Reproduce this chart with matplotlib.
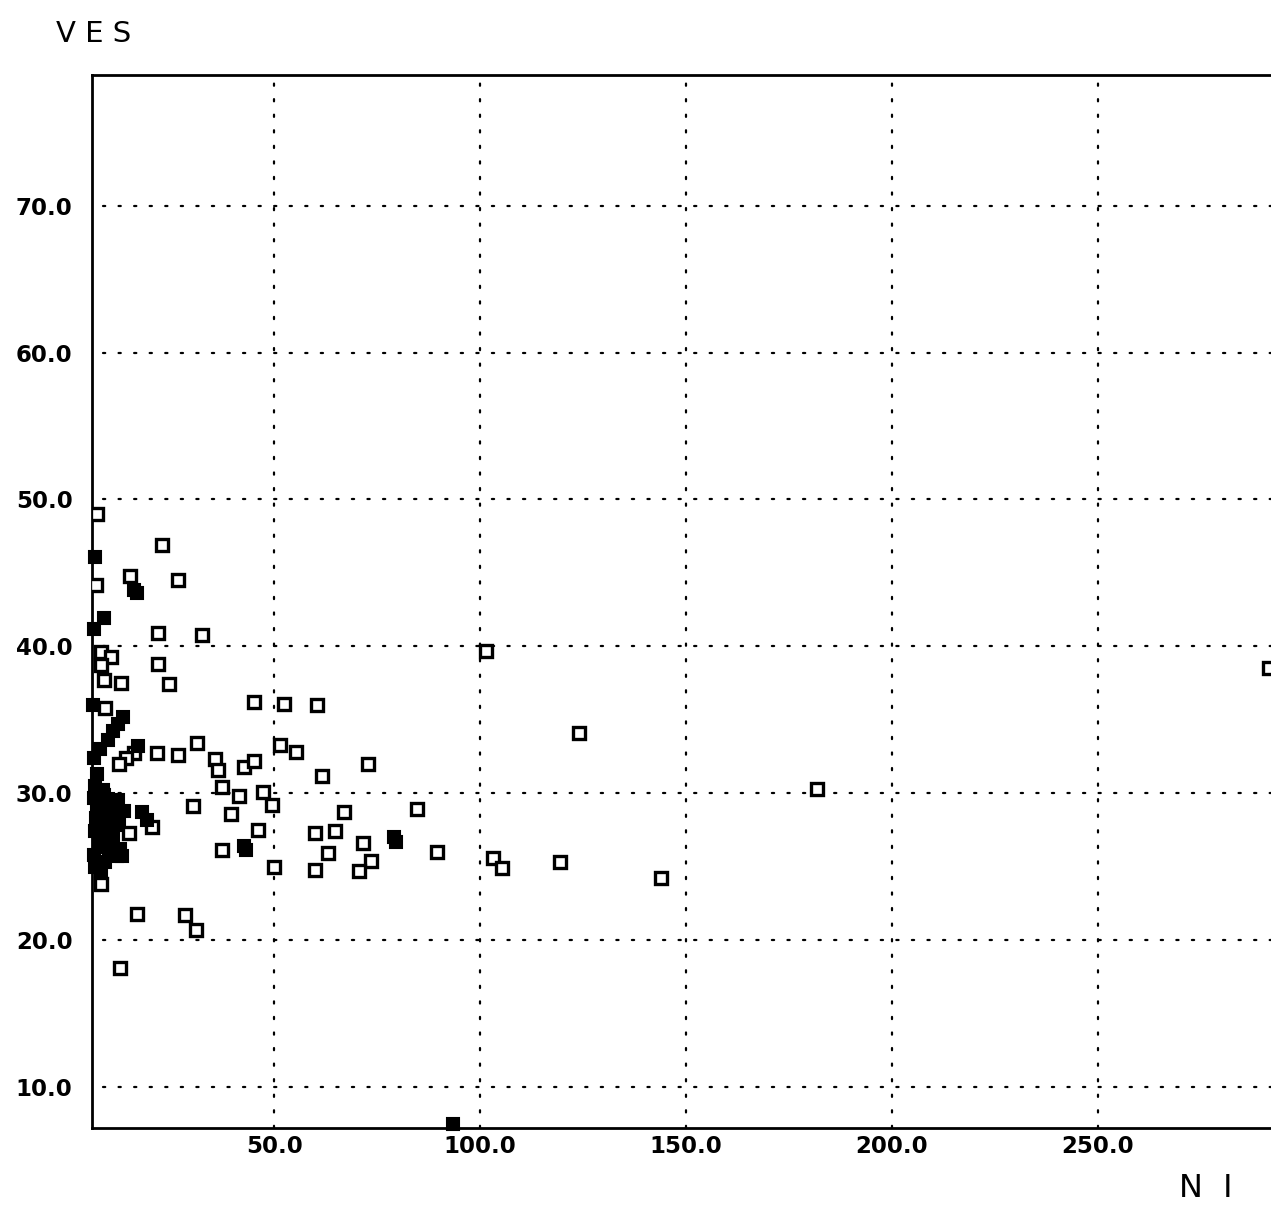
"""Scatter of VES against NI, redrawn from an old plotter printout."""
import matplotlib
matplotlib.use("Agg")
import matplotlib.pyplot as plt

# open squares
open_ni = [7.1, 22.7, 14.9, 26.7, 6.8, 21.9, 32.6, 101.5, 8.0, 10.4, 8.0, 21.8,
           8.7, 12.9, 24.4, 45.0, 52.3, 60.3, 124.0, 9.0, 16.0, 14.0, 12.4,
           21.5, 26.6, 31.2, 35.6, 36.3, 42.6, 45.2, 51.4, 55.2, 72.7, 61.6,
           37.4, 41.5, 47.3, 49.5, 30.3, 39.5, 66.9, 84.7, 181.7, 20.3, 14.7,
           7.0, 46.2, 60.0, 64.9, 37.4, 71.7, 63.0, 50.0, 59.9, 73.6, 70.6,
           89.6, 103.2, 105.3, 119.4, 144.0, 8.0, 16.6, 28.4, 31.1, 12.7, 291.6]
open_ves = [49.0, 46.9, 44.8, 44.5, 44.2, 40.9, 40.8, 39.7, 39.6, 39.3, 38.7, 38.8,
            37.7, 37.5, 37.4, 36.2, 36.1, 36.0, 34.1, 35.8, 32.7, 32.4, 32.0,
            32.7, 32.6, 33.4, 32.3, 31.6, 31.8, 32.2, 33.3, 32.8, 32.0, 31.2,
            30.4, 29.8, 30.1, 29.2, 29.1, 28.6, 28.7, 28.9, 30.3, 27.7, 27.3,
            27.6, 27.5, 27.3, 27.4, 26.1, 26.6, 25.9, 25.0, 24.8, 25.4, 24.7,
            26.0, 25.6, 24.9, 25.3, 24.2, 23.8, 21.8, 21.7, 20.7, 18.1, 38.5]

# filled squares
filled_ni = [6.5, 16.0, 16.8, 8.6, 6.2, 6.1, 13.4, 12.2, 11.0, 9.7, 7.8, 6.4,
             17.0, 7.0, 6.4, 7.6, 8.8, 10.0, 11.2, 12.4, 7.6, 6.5, 8.7, 7.4,
             6.2, 10.0, 11.9, 13.1, 6.5, 10.4, 18.0, 19.2, 42.6, 43.2, 79.0,
             79.5, 93.4,
             7.0, 8.0, 9.0, 7.5, 9.5, 11.0, 12.0, 8.5, 6.8, 10.5, 9.0, 8.0,
             12.5, 13.5, 6.6, 9.6, 11.5, 7.2]
filled_ves = [46.1, 43.8, 43.6, 41.9, 41.2, 36.0, 35.2, 34.7, 34.2, 33.6, 33.0, 32.4,
              33.2, 31.3, 29.7, 29.4, 29.9, 29.1, 28.6, 28.2, 28.4, 27.4, 27.0, 26.3,
              25.8, 26.0, 25.7, 25.7, 25.0, 28.1, 28.7, 28.2, 26.4, 26.1, 27.0,
              26.7, 7.5,
              29.0, 28.0, 27.5, 26.8, 26.5, 27.0, 29.5, 30.2, 28.3, 28.5, 25.3, 24.8,
              26.2, 28.8, 30.5, 29.6, 27.8, 27.9]

x_ticks = [50, 100, 150, 200, 250]
x_labels = ["50.0", "100.0", "150.0", "200.0", "250.0"]
y_ticks = [10, 20, 30, 40, 50, 60, 70]
y_labels = ["10.0", "20.0", "30.0", "40.0", "50.0", "60.0", "70.0"]

fig = plt.figure(figsize=(12.71, 12.06), dpi=100)
ax = fig.add_axes([0.0724, 0.0647, 0.9276, 0.8731])
ax.set_xlim(5.8, 292)
ax.set_ylim(7.2, 78.9)

dots = dict(color="black", lw=1.6, linestyle=(0, (1, 6)), dash_capstyle="round", zorder=1)
for x in x_ticks:
    ax.axvline(x, **dots)
for y in y_ticks:
    ax.plot([8.5, 292], [y, y], **dots)

ax.plot(open_ni, open_ves, "s", ms=8, mfc="white", mec="black", mew=2.4, zorder=3)
ax.plot(filled_ni, filled_ves, "s", ms=9, mfc="black", mec="black", mew=1.5, zorder=4,
        clip_on=False)

ax.set_xticks(x_ticks)
ax.set_xticklabels(x_labels)
ax.set_yticks(y_ticks)
ax.set_yticklabels(y_labels)
ax.tick_params(axis="x", length=0, labelsize=16.5, pad=5)
ax.tick_params(axis="y", length=0, labelsize=16.5, pad=14)
for lab in ax.get_xticklabels() + ax.get_yticklabels():
    lab.set_fontweight("bold")

for side in ["left", "top", "bottom"]:
    ax.spines[side].set_linewidth(2.0)
ax.spines["right"].set_visible(False)

fig.text(0.044, 0.972, "V E S", fontsize=21, va="center", ha="left")
fig.text(0.928, 0.002, "N  I", fontsize=23, va="bottom", ha="left")

fig.savefig("out.png", dpi=100)
